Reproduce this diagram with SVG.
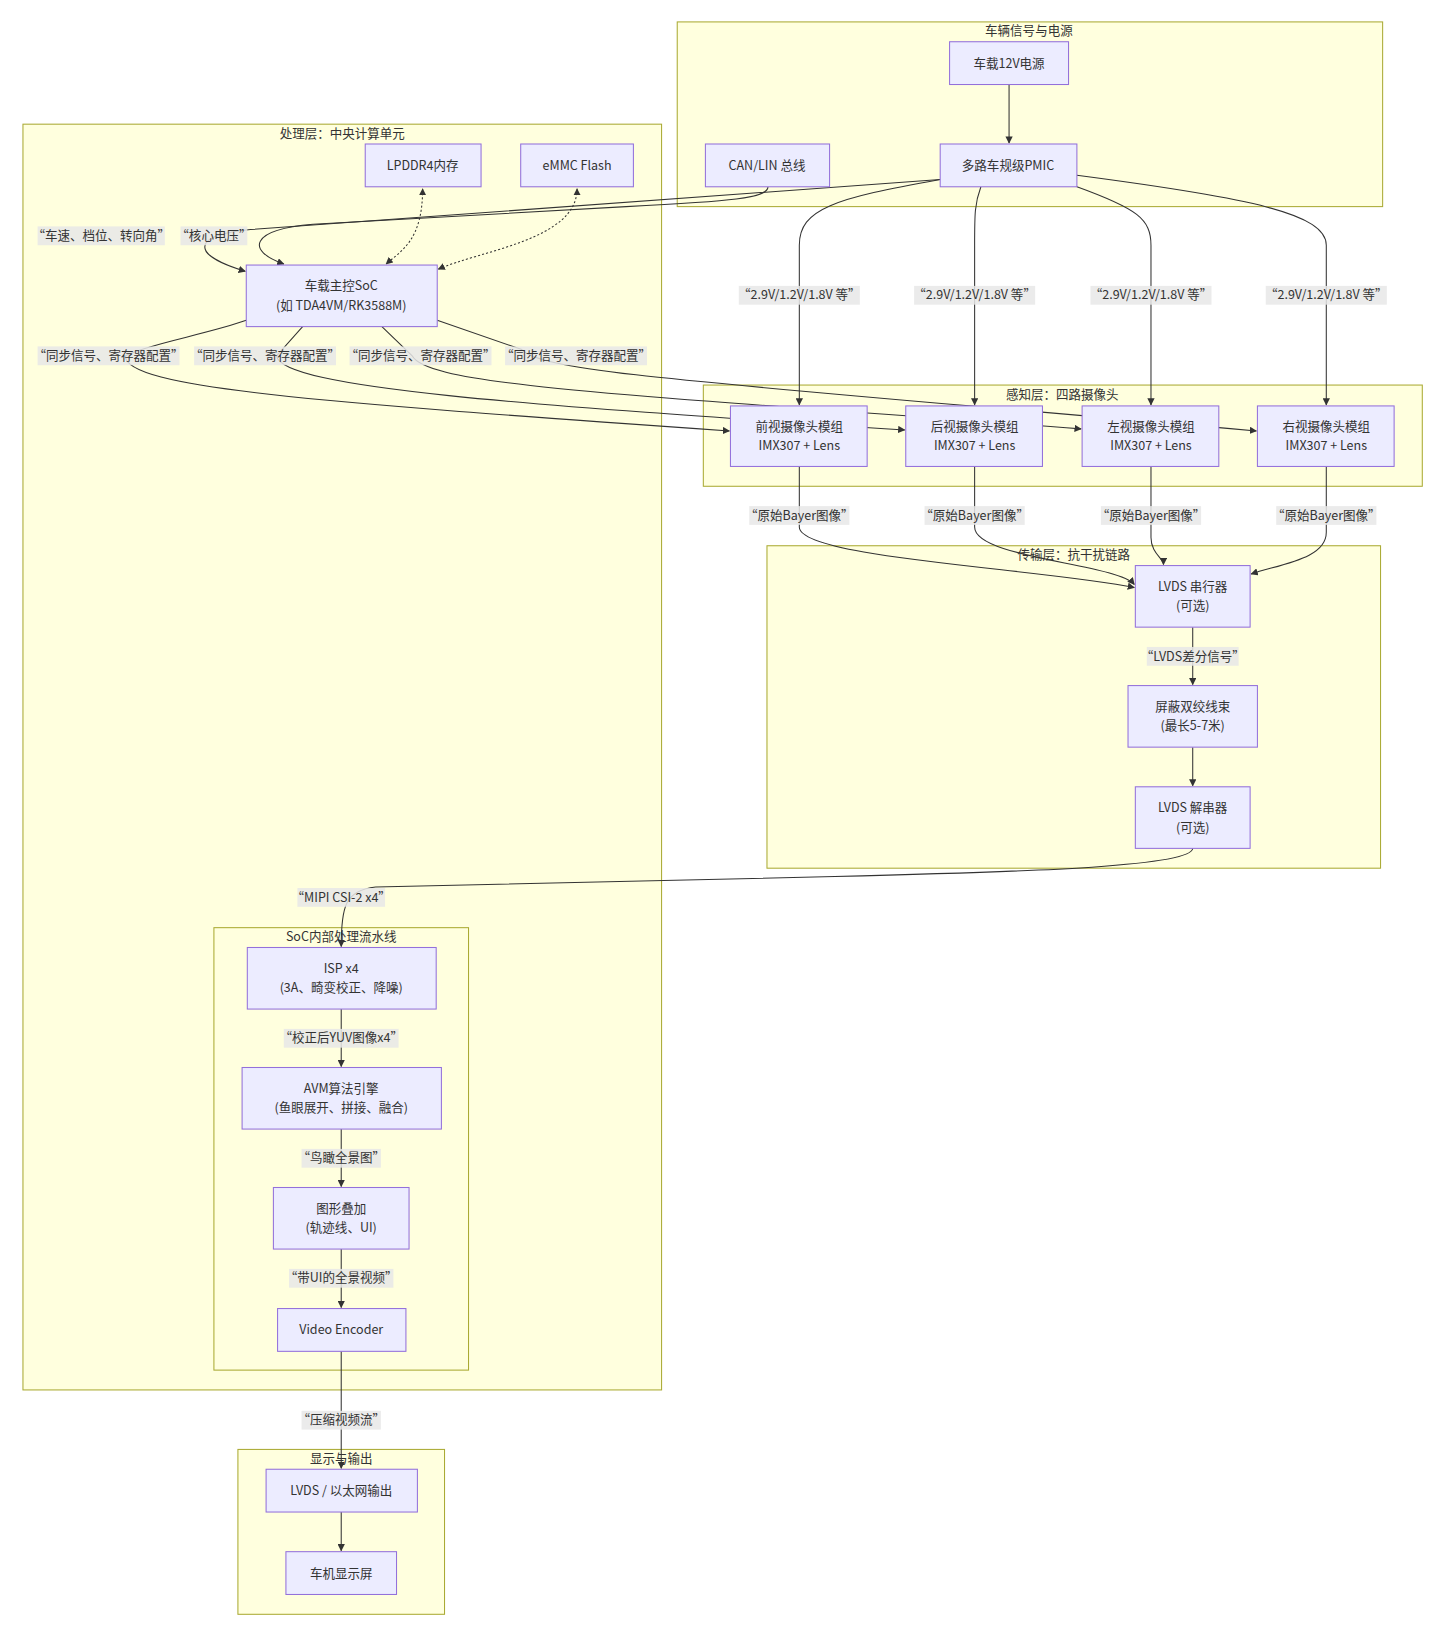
<svg xmlns="http://www.w3.org/2000/svg" width="1440" height="1631" viewBox="0 0 1440 1631">
<defs>
<style>
.c{fill:#ffffde;stroke:#aaaa33;stroke-width:1}
.n rect{fill:#ececff;stroke:#9370DB;stroke-width:1}
text{font-family:"Noto Sans CJK SC","Liberation Sans",sans-serif;font-size:12px;fill:#333;text-anchor:middle}
.e{fill:none;stroke:#333;stroke-width:1;marker-end:url(#a)}
.d{stroke-dasharray:2 2;marker-start:url(#b)}
.lb{fill:#e8e8e8;opacity:0.85}
</style>
<marker id="a" viewBox="0 0 10 10" refX="9" refY="5" markerWidth="7" markerHeight="7" orient="auto"><path d="M0,0L10,5L0,10z" fill="#333"/></marker>
<marker id="b" viewBox="0 0 10 10" refX="1" refY="5" markerWidth="7" markerHeight="7" orient="auto"><path d="M10,0L0,5L10,10z" fill="#333"/></marker>
</defs>
<rect width="1440" height="1631" fill="#fff"/>
<g transform="scale(1.0435)">
<g id="clusters">
<rect class="c" x="649" y="21" width="676" height="177"/><text x="986" y="34">车辆信号与电源</text>
<rect class="c" x="22" y="119" width="612" height="1213"/><text x="328" y="132">处理层：中央计算单元</text>
<rect class="c" x="674" y="369" width="689" height="97"/><text x="1018" y="382">感知层：四路摄像头</text>
<rect class="c" x="735" y="523" width="588" height="309"/><text x="1029" y="536">传输层：抗干扰链路</text>
<rect class="c" x="205" y="889" width="244" height="424"/><text x="327" y="902">SoC内部处理流水线</text>
<rect class="c" x="228" y="1389" width="198" height="158"/><text x="327" y="1402">显示与输出</text>
</g>
<g id="edges">
<path class="e" d="M967,81L967,137"/>
<path class="e" d="M901,172C800,190 766,200 766,235L766,388"/>
<path class="e" d="M940,179C934,195 934,205 934,235L934,388"/>
<path class="e" d="M1032,179C1090,200 1103,210 1103,235L1103,388"/>
<path class="e" d="M1032,168C1200,190 1271,205 1271,235L1271,388"/>
<path class="e" d="M736,179C736,190 700,193 600,198L300,215C240,220 235,240 272,253"/>
<path class="e" d="M901,172L240,220C180,226 185,245 235,260"/>
<path class="e d" d="M405,181C405,230 385,240 370,253"/>
<path class="e d" d="M553,181C553,230 460,240 420,258"/>
<path class="e" d="M236,307C200,320 140,330 120,341C120,372 300,385 699,413"/>
<path class="e" d="M290,313L265,341C270,372 500,388 867,412"/>
<path class="e" d="M366,313L395,341C410,370 600,378 1036,411"/>
<path class="e" d="M419,307L500,335C520,358 700,368 1204,413"/>
<path class="e" d="M766,447L766,505C766,535 1000,545 1087,563"/>
<path class="e" d="M934,447L934,505C934,535 1070,540 1087,560"/>
<path class="e" d="M1103,447L1103,515C1103,530 1115,535 1115,541"/>
<path class="e" d="M1271,447L1271,510C1271,535 1230,540 1199,550"/>
<path class="e" d="M1143,601L1143,656"/>
<path class="e" d="M1143,716L1143,753"/>
<path class="e" d="M1143,813C1143,830 1000,835 800,840L360,850C330,853 327,870 327,907"/>
<path class="e" d="M327,967L327,1022"/>
<path class="e" d="M327,1082L327,1137"/>
<path class="e" d="M327,1197L327,1253"/>
<path class="e" d="M327,1295L327,1407"/>
<path class="e" d="M327,1449L327,1486"/>
</g>
<g id="labels">
<rect class="lb" x="36" y="217" width="122" height="18"/><text x="97" y="230">“车速、档位、转向角”</text>
<rect class="lb" x="173" y="217" width="64" height="18"/><text x="205" y="230">“核心电压”</text>
<rect class="lb" x="36" y="332" width="136" height="18"/><text x="104" y="345">“同步信号、寄存器配置”</text>
<rect class="lb" x="186" y="332" width="136" height="18"/><text x="254" y="345">“同步信号、寄存器配置”</text>
<rect class="lb" x="335" y="332" width="136" height="18"/><text x="403" y="345">“同步信号、寄存器配置”</text>
<rect class="lb" x="484" y="332" width="136" height="18"/><text x="552" y="345">“同步信号、寄存器配置”</text>
<rect class="lb" x="708" y="274" width="116" height="18"/><text x="766" y="287">“2.9V/1.2V/1.8V 等”</text>
<rect class="lb" x="876" y="274" width="116" height="18"/><text x="934" y="287">“2.9V/1.2V/1.8V 等”</text>
<rect class="lb" x="1045" y="274" width="116" height="18"/><text x="1103" y="287">“2.9V/1.2V/1.8V 等”</text>
<rect class="lb" x="1213" y="274" width="116" height="18"/><text x="1271" y="287">“2.9V/1.2V/1.8V 等”</text>
<rect class="lb" x="718" y="485" width="96" height="18"/><text x="766" y="498">“原始Bayer图像”</text>
<rect class="lb" x="886" y="485" width="96" height="18"/><text x="934" y="498">“原始Bayer图像”</text>
<rect class="lb" x="1055" y="485" width="96" height="18"/><text x="1103" y="498">“原始Bayer图像”</text>
<rect class="lb" x="1223" y="485" width="96" height="18"/><text x="1271" y="498">“原始Bayer图像”</text>
<rect class="lb" x="1099" y="620" width="88" height="18"/><text x="1143" y="633">“LVDS差分信号”</text>
<rect class="lb" x="285" y="851" width="84" height="18"/><text x="327" y="864">“MIPI CSI-2 x4”</text>
<rect class="lb" x="272" y="986" width="110" height="18"/><text x="327" y="999">“校正后YUV图像x4”</text>
<rect class="lb" x="289" y="1101" width="76" height="18"/><text x="327" y="1114">“鸟瞰全景图”</text>
<rect class="lb" x="277" y="1216" width="100" height="18"/><text x="327" y="1229">“带UI的全景视频”</text>
<rect class="lb" x="289" y="1352" width="76" height="18"/><text x="327" y="1365">“压缩视频流”</text>
</g>
<g id="n12v" class="n"><rect x="910" y="40" width="114" height="41"/><text x="967" y="65">车载12V电源</text></g>
<g id="ncan" class="n"><rect x="676" y="138" width="119" height="41"/><text x="735" y="163">CAN/LIN 总线</text></g>
<g id="npmic" class="n"><rect x="901" y="138" width="131" height="41"/><text x="966" y="163">多路车规级PMIC</text></g>
<g id="nddr" class="n"><rect x="350" y="138" width="111" height="41"/><text x="405" y="163">LPDDR4内存</text></g>
<g id="nemmc" class="n"><rect x="499" y="138" width="108" height="41"/><text x="553" y="163">eMMC Flash</text></g>
<g id="nsoc" class="n"><rect x="236" y="254" width="183" height="59"/><text x="327" y="278">车载主控SoC</text><text x="327" y="297">(如 TDA4VM/RK3588M)</text></g>
<g id="ncam1" class="n"><rect x="700" y="389" width="131" height="58"/><text x="766" y="413">前视摄像头模组</text><text x="766" y="431">IMX307 + Lens</text></g>
<g id="ncam2" class="n"><rect x="868" y="389" width="131" height="58"/><text x="934" y="413">后视摄像头模组</text><text x="934" y="431">IMX307 + Lens</text></g>
<g id="ncam3" class="n"><rect x="1037" y="389" width="131" height="58"/><text x="1103" y="413">左视摄像头模组</text><text x="1103" y="431">IMX307 + Lens</text></g>
<g id="ncam4" class="n"><rect x="1205" y="389" width="131" height="58"/><text x="1271" y="413">右视摄像头模组</text><text x="1271" y="431">IMX307 + Lens</text></g>
<g id="nser" class="n"><rect x="1088" y="542" width="110" height="59"/><text x="1143" y="566">LVDS 串行器</text><text x="1143" y="585">(可选)</text></g>
<g id="ncable" class="n"><rect x="1081" y="657" width="124" height="59"/><text x="1143" y="681">屏蔽双绞线束</text><text x="1143" y="700">(最长5-7米)</text></g>
<g id="ndes" class="n"><rect x="1088" y="754" width="110" height="59"/><text x="1143" y="778">LVDS 解串器</text><text x="1143" y="797">(可选)</text></g>
<g id="nisp" class="n"><rect x="237" y="908" width="181" height="59"/><text x="327" y="932">ISP x4</text><text x="327" y="951">(3A、畸变校正、降噪)</text></g>
<g id="navm" class="n"><rect x="232" y="1023" width="191" height="59"/><text x="327" y="1047">AVM算法引擎</text><text x="327" y="1066">(鱼眼展开、拼接、融合)</text></g>
<g id="novl" class="n"><rect x="262" y="1138" width="130" height="59"/><text x="327" y="1162">图形叠加</text><text x="327" y="1181">(轨迹线、UI)</text></g>
<g id="nenc" class="n"><rect x="266" y="1254" width="123" height="41"/><text x="327" y="1278">Video Encoder</text></g>
<g id="nout" class="n"><rect x="255" y="1408" width="145" height="41"/><text x="327" y="1433">LVDS / 以太网输出</text></g>
<g id="ndisp" class="n"><rect x="274" y="1487" width="106" height="41"/><text x="327" y="1512">车机显示屏</text></g>
</g>
</svg>
